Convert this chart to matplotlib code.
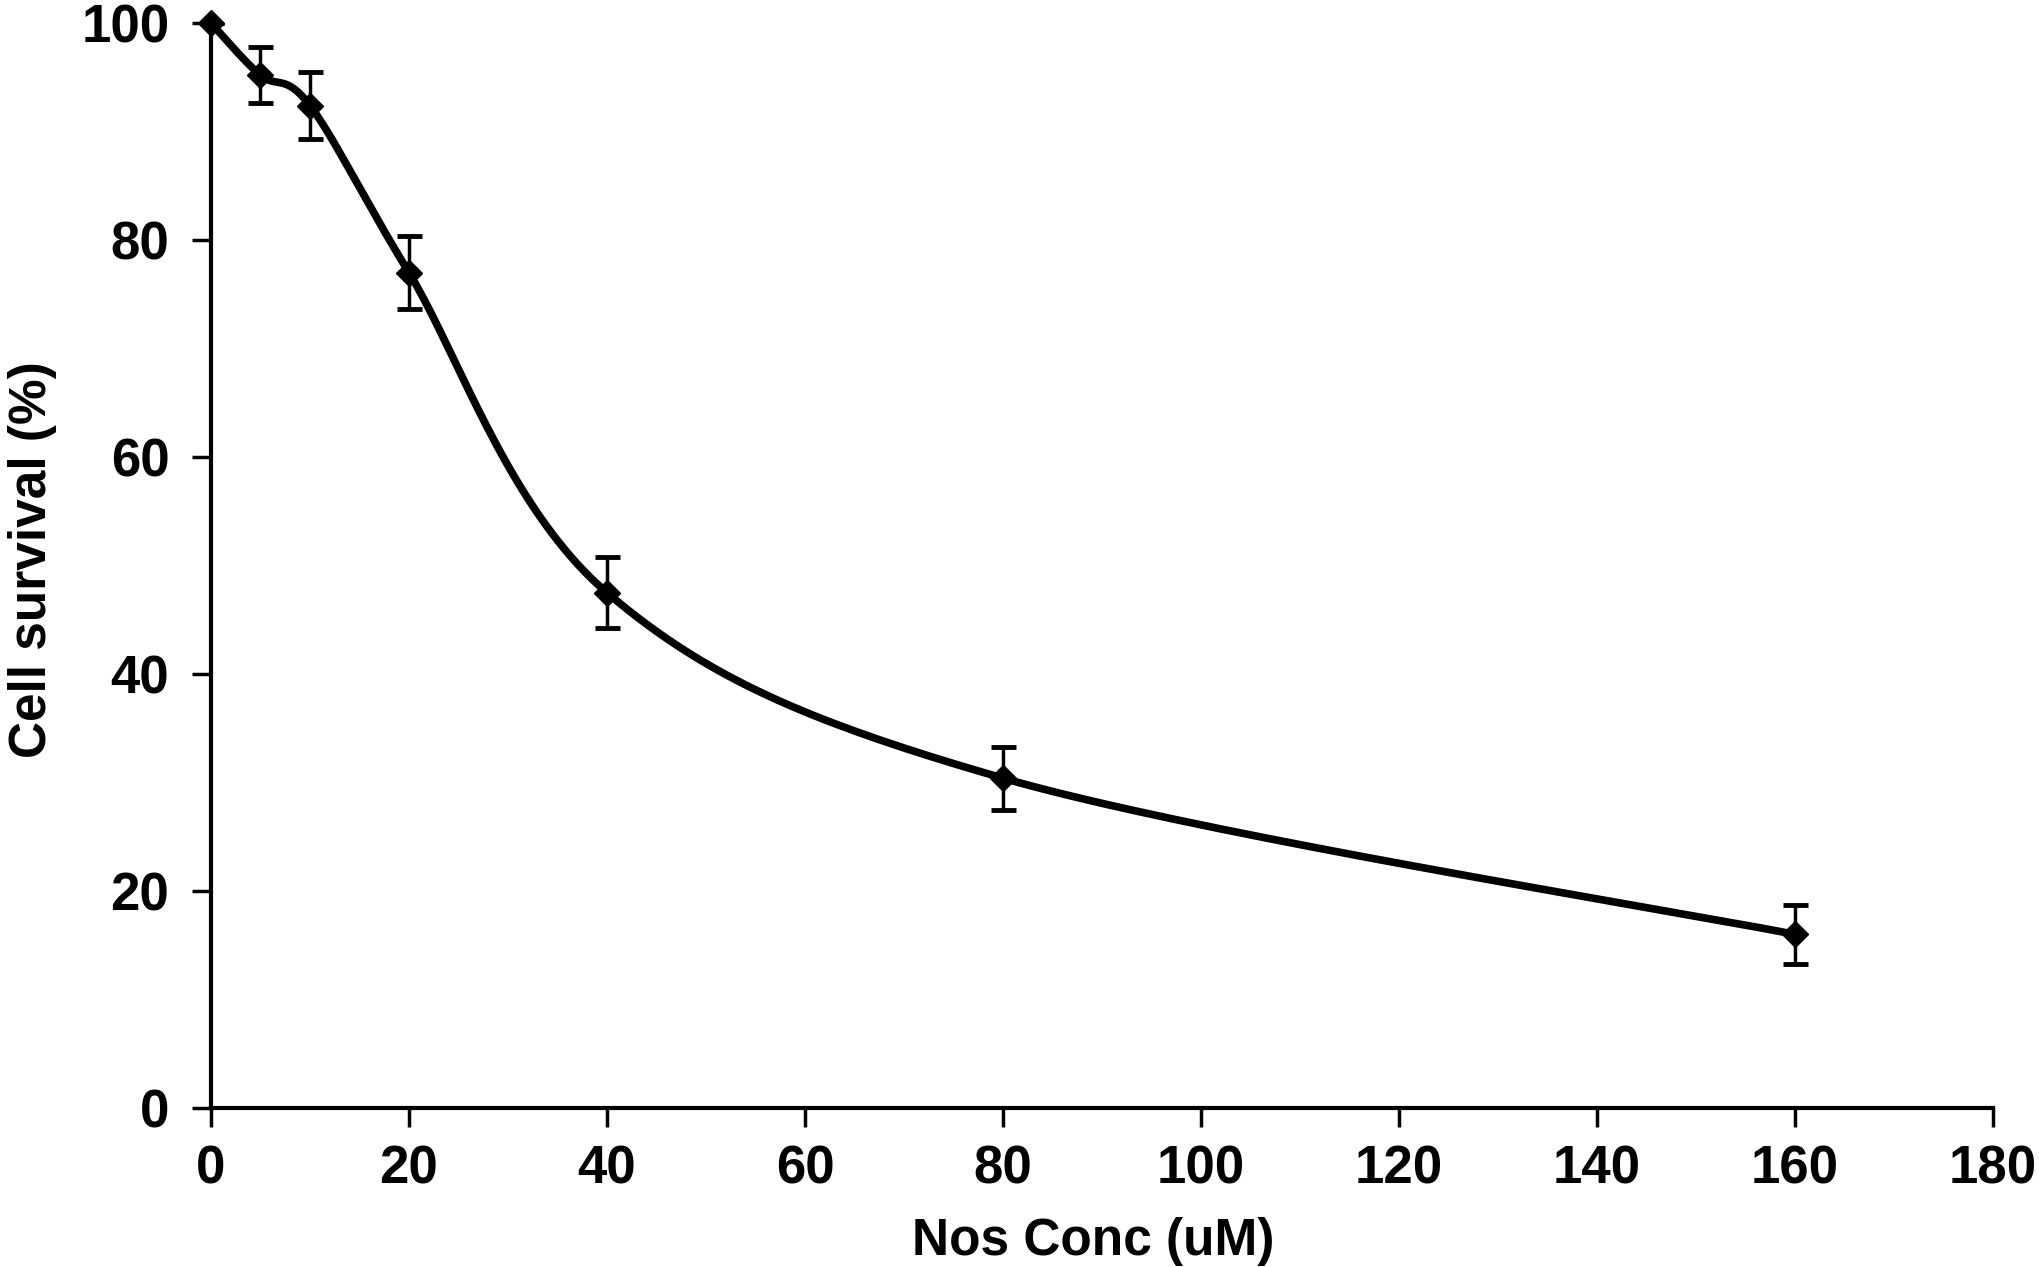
import numpy as np
import matplotlib
matplotlib.use('Agg')
import matplotlib.pyplot as plt

# data
conc = [0, 5, 10, 20, 40, 80, 160]
survival = [100.0, 95.2, 92.4, 77.0, 47.5, 30.4, 16.0]
err = [0.0, 2.6, 3.1, 3.4, 3.3, 2.9, 2.7]

x_ticks = [0, 20, 40, 60, 80, 100, 120, 140, 160, 180]
y_ticks = [0, 20, 40, 60, 80, 100]


def smooth_curve(x, y, n=40):
    # Excel style smoothed line: cubic Bezier segments with Catmull-Rom tangents
    x = np.asarray(x, float)
    y = np.asarray(y, float)
    px, py = [], []
    m = len(x)
    for i in range(m - 1):
        x0, y0 = x[max(i - 1, 0)], y[max(i - 1, 0)]
        x3, y3 = x[min(i + 2, m - 1)], y[min(i + 2, m - 1)]
        c1x = x[i] + (x[i + 1] - x0) / 6.0
        c1y = y[i] + (y[i + 1] - y0) / 6.0
        c2x = x[i + 1] - (x3 - x[i]) / 6.0
        c2y = y[i + 1] - (y3 - y[i]) / 6.0
        t = np.linspace(0, 1, n)
        bx = (1-t)**3*x[i] + 3*(1-t)**2*t*c1x + 3*(1-t)*t**2*c2x + t**3*x[i+1]
        by = (1-t)**3*y[i] + 3*(1-t)**2*t*c1y + 3*(1-t)*t**2*c2y + t**3*y[i+1]
        px.extend(bx)
        py.extend(by)
    return px, py


fig = plt.figure(figsize=(20.40, 12.67), dpi=100)
ax = fig.add_axes([0.1034, 0.1255, 0.8736, 0.8563])

sx, sy = smooth_curve(conc, survival)
ax.plot(sx, sy, color='black', lw=5.5, solid_capstyle='round', zorder=2, clip_on=False)
eb = ax.errorbar(conc, survival, yerr=err, fmt='D', color='black', ms=13,
                 ecolor='black', elinewidth=2.5, capsize=9, capthick=3.5, zorder=3)
eb[0].set_clip_on(False)

ax.set_xlim(0, 180)
ax.set_ylim(0, 100)
ax.set_xticks(x_ticks)
ax.set_yticks(y_ticks)

tick_font = {'family': ['Liberation Sans Narrow', 'Liberation Sans', 'DejaVu Sans'],
             'weight': 'bold', 'size': 38}
ax.set_xticklabels([str(v) for v in x_ticks], fontdict=tick_font)
ax.set_yticklabels([str(v) for v in y_ticks], fontdict=tick_font)
ax.tick_params(axis='x', direction='out', length=14, width=2.5, pad=12)
ax.tick_params(axis='y', direction='out', length=14, width=2.5, pad=16)

for s in ['top', 'right']:
    ax.spines[s].set_visible(False)
for s in ['left', 'bottom']:
    ax.spines[s].set_linewidth(3)

label_font = {'family': ['Liberation Sans', 'DejaVu Sans'], 'weight': 'bold', 'size': 37}
ax.set_xlabel('Nos Conc (uM)', fontdict=label_font)
ax.set_ylabel('Cell survival (%)', fontdict=label_font)
ax.xaxis.set_label_coords(0.495, -0.1235)
ax.yaxis.set_label_coords(-0.100, 0.505)
ax.xaxis.label.set_va('center')
ax.yaxis.label.set_va('center')

fig.savefig('out.png', dpi=100, facecolor='white')
